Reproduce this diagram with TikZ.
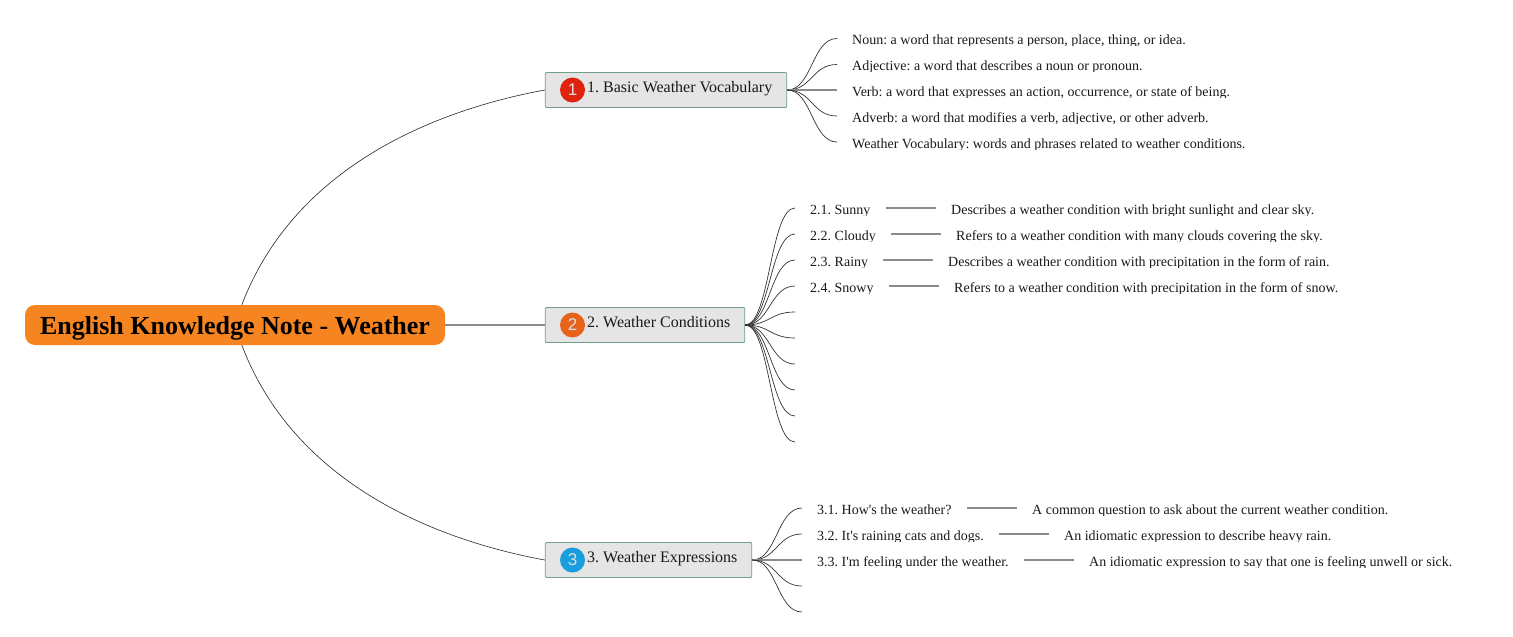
\documentclass[tikz,border=0pt]{standalone}
\usepackage{fontspec}
\setmainfont{Liberation Serif}
\newfontfamily\plainserif{Liberation Serif}
\newfontfamily\badgefont{Liberation Sans}
\frenchspacing
\definecolor{rootfill}{HTML}{F68521}
\definecolor{boxfill}{HTML}{E5E5E5}
\definecolor{boxline}{HTML}{6FA08C}
\definecolor{edgeline}{HTML}{333333}
\definecolor{barline}{HTML}{8C8C8C}
\definecolor{badgeA}{HTML}{E0230F}
\definecolor{badgeB}{HTML}{E5631A}
\definecolor{badgeC}{HTML}{1A9DDD}
\tikzset{
  leaftext/.style={anchor=west,inner xsep=15pt,inner ysep=0pt,font=\plainserif\fontsize{14}{14}\selectfont\frenchspacing,text=black!90,text height=12pt,text depth=0pt},
  topicbox/.style={draw=boxline,line width=0.9pt,fill=boxfill,rounded corners=1pt,anchor=west,minimum height=35pt,inner sep=0pt},
  topictext/.style={anchor=west,inner sep=0pt,font=\plainserif\fontsize{16}{16}\selectfont\frenchspacing,text=black!90,text height=10.6pt,text depth=0pt},
  badge/.style={circle,minimum size=25pt,inner sep=0pt,text=white!88!black,font=\badgefont\fontsize{17}{17}\selectfont},
  branch/.style={draw=edgeline,line width=0.7pt},
  bigcurve/.style={draw=black!85,line width=0.6pt},
  bar/.style={draw=barline,line width=1.4pt},
}
\newcommand{\leafnode}[4]{%
  \begin{scope}
    \clip (#2-15,#3-12) rectangle (1513,#3+7.2);
    \node[leaftext] (#1) at (#2-15,#3) {#4};
  \end{scope}}
\newcommand{\fork}[3]{%
  \draw[branch] (#1.east) .. controls (#3,0|-#1.east) and (#3,0|-#2) .. (#2);}
\begin{document}
\begin{tikzpicture}[x=1pt,y=-1pt]
\useasboundingbox (0,0) rectangle (1513,637);

% topic boxes
\node[topicbox,minimum width=241.5pt] (t1) at (544.8,90) {};
\node[topicbox,minimum width=199.5pt] (t2) at (544.8,325) {};
\node[topicbox,minimum width=206.5pt] (t3) at (544.8,560) {};
\node[topictext] (t1txt) at (587,87) {1. Basic Weather Vocabulary};
\node[topictext] (t2txt) at (587,322) {2. Weather Conditions};
\node[topictext] (t3txt) at (587,557) {3. Weather Expressions};
\node[badge,fill=badgeA] (b1) at (572.5,90) {1};
\node[badge,fill=badgeB] (b2) at (572.5,325) {2};
\node[badge,fill=badgeC] (b3) at (572.5,560) {3};

% root and main connectors
\coordinate (rootc) at (235,325);
\draw[bigcurve] (rootc) .. controls (280,175) and (425,112) .. (t1.west);
\draw[bigcurve] (rootc) .. controls (280,475) and (425,538) .. (t3.west);
\node[fill=rootfill,rounded corners=10pt,minimum width=420pt,minimum height=40pt,inner sep=0pt,font=\bfseries\fontsize{26}{26}\selectfont,text=black,text height=18pt,text depth=0pt] (root) at (235,325) {English Knowledge Note - Weather};
\draw[draw=barline,line width=1.2pt] (root.east) -- (t2.west);

% branch 1
\leafnode{a1}{852}{38.5}{Noun: a word that represents a person, place, thing, or idea.}
\leafnode{a2}{852}{64.5}{Adjective: a word that describes a noun or pronoun.}
\leafnode{a3}{852}{90}{Verb: a word that expresses an action, occurrence, or state of being.}
\leafnode{a4}{852}{116}{Adverb: a word that modifies a verb, adjective, or other adverb.}
\leafnode{a5}{852}{142}{Weather Vocabulary: words and phrases related to weather conditions.}
\fork{t1}{a1.west}{812}
\fork{t1}{a2.west}{812}
\draw[bar] (t1.east) -- (a3.west);
\fork{t1}{a4.west}{812}
\fork{t1}{a5.west}{812}

% branch 2
\leafnode{c1}{810}{208}{2.1. Sunny}
\leafnode{c2}{810}{234}{2.2. Cloudy}
\leafnode{c3}{810}{260}{2.3. Rainy}
\leafnode{c4}{810}{286}{2.4. Snowy}
\leafnode{d1}{951}{208}{Describes a weather condition with bright sunlight and clear sky.}
\leafnode{d2}{956}{234}{Refers to a weather condition with many clouds covering the sky.}
\leafnode{d3}{948}{260}{Describes a weather condition with precipitation in the form of rain.}
\leafnode{d4}{954}{286}{Refers to a weather condition with precipitation in the form of snow.}
\draw[bar] (c1.east) -- (d1.west);
\draw[bar] (c2.east) -- (d2.west);
\draw[bar] (c3.east) -- (d3.west);
\draw[bar] (c4.east) -- (d4.west);
\coordinate (c5) at (795,312);
\coordinate (c6) at (795,338);
\coordinate (c7) at (795,364);
\coordinate (c8) at (795,390);
\coordinate (c9) at (795,416);
\coordinate (c10) at (795,442);
\fork{t2}{c1.west}{770}
\fork{t2}{c2.west}{770}
\fork{t2}{c3.west}{770}
\fork{t2}{c4.west}{770}
\fork{t2}{c5}{770}
\fork{t2}{c6}{770}
\fork{t2}{c7}{770}
\fork{t2}{c8}{770}
\fork{t2}{c9}{770}
\fork{t2}{c10}{770}

% branch 3
\leafnode{e1}{817}{508}{3.1. How's the weather?}
\leafnode{e2}{817}{534}{3.2. It's raining cats and dogs.}
\leafnode{e3}{817}{560}{3.3. I'm feeling under the weather.}
\leafnode{f1}{1032}{508}{A common question to ask about the current weather condition.}
\leafnode{f2}{1064}{534}{An idiomatic expression to describe heavy rain.}
\leafnode{f3}{1089}{560}{An idiomatic expression to say that one is feeling unwell or sick.}
\draw[bar] (e1.east) -- (f1.west);
\draw[bar] (e2.east) -- (f2.west);
\draw[bar] (e3.east) -- (f3.west);
\coordinate (e4) at (802,586);
\coordinate (e5) at (802,612);
\fork{t3}{e1.west}{777}
\fork{t3}{e2.west}{777}
\draw[bar] (t3.east) -- (e3.west);
\fork{t3}{e4}{777}
\fork{t3}{e5}{777}
\end{tikzpicture}
\end{document}
